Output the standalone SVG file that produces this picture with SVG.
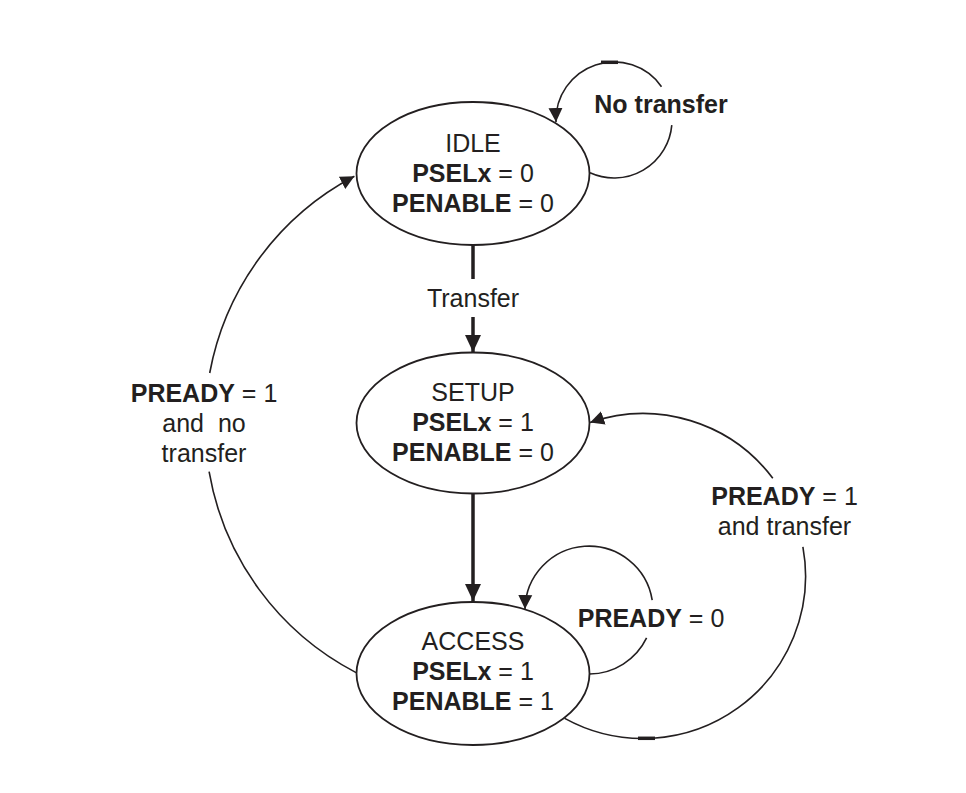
<svg xmlns="http://www.w3.org/2000/svg" width="966" height="793" viewBox="0 0 966 793">
<style>
.node{fill:#fff;stroke:#231f20;stroke-width:1.8}
.t{font-family:"Liberation Sans",Arial,sans-serif;font-size:25px;fill:#231f20;text-anchor:middle}
.b{font-weight:bold}
.thin{fill:none;stroke:#231f20;stroke-width:1.6}
.thick{fill:none;stroke:#231f20;stroke-width:3.5}
.tick{stroke:#231f20;stroke-width:3.5}
</style>
<defs>
<marker id="ah" markerUnits="userSpaceOnUse" markerWidth="15" markerHeight="15" refX="14" refY="7.5" orient="auto" viewBox="0 0 15 15">
<path d="M0,0.5 L14,7.5 L0,14.5 z" fill="#231f20"/>
</marker>
<marker id="ahb" markerUnits="userSpaceOnUse" markerWidth="18" markerHeight="18" refX="17" refY="9" orient="auto" viewBox="0 0 18 18">
<path d="M0,1 L17,9 L0,17 z" fill="#231f20"/>
</marker>
</defs>
<rect width="966" height="793" fill="#fff"/>
<g id="connectors">
<line class="thick" x1="473" y1="245" x2="473" y2="279"/>
<line class="thick" x1="473" y1="317" x2="473" y2="352" marker-end="url(#ahb)"/>
<text class="t" x="473" y="307">Transfer</text>
<line class="thick" x1="473" y1="494" x2="473" y2="601" marker-end="url(#ahb)"/>
<path class="thin" d="M590 172.8 A58 58 0 0 0 671.8 125.1"/>
<path class="thin" d="M661.5 86.7 A58 58 0 0 0 556 122" marker-end="url(#ah)"/>
<line class="tick" x1="601" y1="62.3" x2="618" y2="62.3"/>
<text class="t b" x="661" y="113">No transfer</text>
<path class="thin" d="M589.6 674 A64 64 0 0 0 646.6 637.9"/>
<path class="thin" d="M652.2 600.1 A64 64 0 0 0 525 609" marker-end="url(#ah)"/>
<text class="t" x="651" y="627"><tspan class="b">PREADY</tspan> = 0</text>
<path class="thin" d="M564.7 718.4 A162.5 162.5 0 0 0 802.9 546.9"/>
<path class="thin" d="M772.8 478.2 A162.5 162.5 0 0 0 590.1 422.4" marker-end="url(#ah)"/>
<line class="tick" x1="638" y1="738.3" x2="655" y2="738.3"/>
<text class="t" x="784.5" y="505"><tspan class="b">PREADY</tspan> = 1</text>
<text class="t" x="784.5" y="535">and transfer</text>
<path class="thin" d="M356.1 672.6 A280 280 0 0 1 209.1 471.7"/>
<path class="thin" d="M209.7 373 A280 280 0 0 1 354.4 176.3" marker-end="url(#ah)"/>
<text class="t" x="204" y="402"><tspan class="b">PREADY</tspan> = 1</text>
<text class="t" x="204" y="432" xml:space="preserve">and  no</text>
<text class="t" x="204" y="462">transfer</text>
</g>
<g id="idle">
<ellipse class="node" cx="473" cy="173.5" rx="116.5" ry="71.5"/>
<text class="t" x="473" y="152">IDLE</text>
<text class="t" x="473" y="182"><tspan class="b">PSELx</tspan> = 0</text>
<text class="t" x="473" y="212"><tspan class="b">PENABLE</tspan> = 0</text>
</g>
<g id="setup">
<ellipse class="node" cx="473" cy="423" rx="116.5" ry="70.5"/>
<text class="t" x="473" y="401">SETUP</text>
<text class="t" x="473" y="431"><tspan class="b">PSELx</tspan> = 1</text>
<text class="t" x="473" y="461"><tspan class="b">PENABLE</tspan> = 0</text>
</g>
<g id="access">
<ellipse class="node" cx="473" cy="673.5" rx="116.5" ry="71.5"/>
<text class="t" x="473" y="650">ACCESS</text>
<text class="t" x="473" y="680"><tspan class="b">PSELx</tspan> = 1</text>
<text class="t" x="473" y="710"><tspan class="b">PENABLE</tspan> = 1</text>
</g>
</svg>
